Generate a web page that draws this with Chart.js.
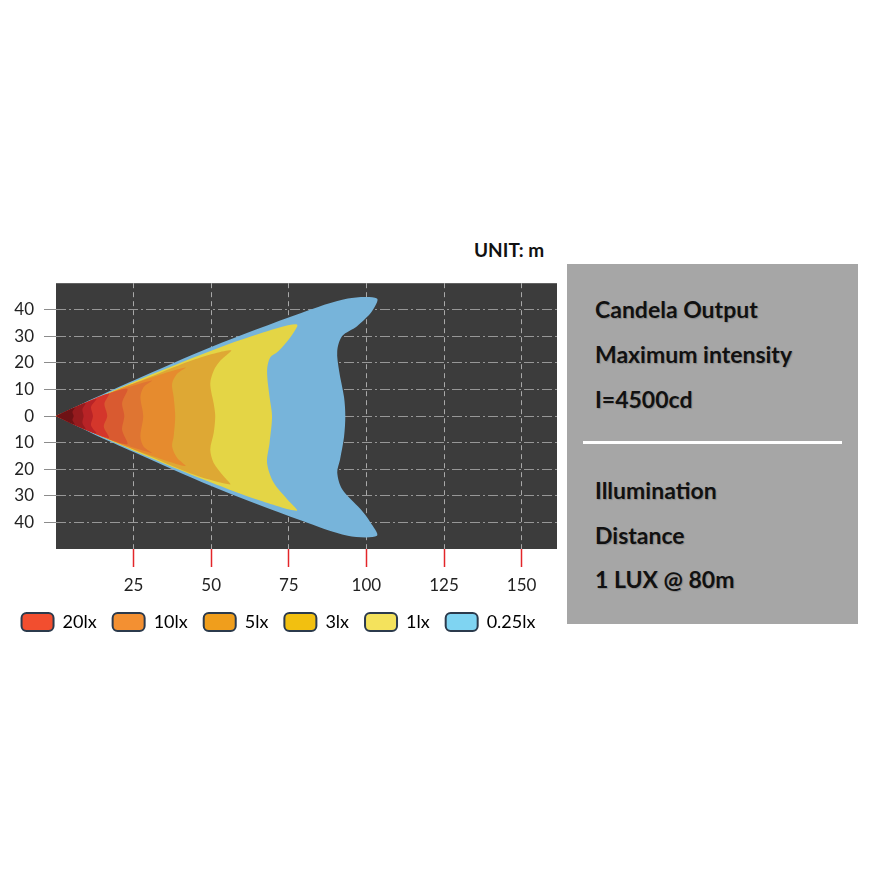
<!DOCTYPE html>
<html>
<head>
<meta charset="utf-8">
<script src="https://cdn.jsdelivr.net/npm/chart.js@4.4.0/dist/chart.umd.min.js"></script>
<style>
body{margin:0;background:#fff;width:875px;height:875px;position:relative;overflow:hidden;font-family:Lato,sans-serif}
#wrap{position:absolute;left:0;top:263px;width:568px;height:384px}
#unit{position:absolute;left:474px;top:238px;font:bold 19px Lato;color:#111}
#panel{position:absolute;left:567px;top:264px;width:291px;height:360px;background:#a6a6a6}
#panel .t{position:absolute;left:28px;font:bold 23px/26px Lato;color:#111;white-space:nowrap;text-shadow:1px 1px 1px rgba(0,0,0,0.18)}
#panel .rule{position:absolute;left:16px;top:177px;width:259px;height:3px;background:#fff}
</style>
</head>
<body>
<div id="unit">UNIT: m</div>
<div id="wrap"><canvas id="beamChart"></canvas></div>
<div id="panel">
  <div class="t" style="top:32px">Candela Output</div>
  <div class="t" style="top:77px">Maximum intensity</div>
  <div class="t" style="top:122px">I=4500cd</div>
  <div class="rule"></div>
  <div class="t" style="top:213px">Illumination</div>
  <div class="t" style="top:258px">Distance</div>
  <div class="t" style="top:302px">1 LUX @ 80m</div>
</div>
<script>
// distance (m) / half width (m) outlines of each lux zone
const contourDarkest = [[0,0],[6,3.1],[5.3,1.5],[5.7,0],[5.3,-1.5],[6,-3.2],[0,0]];
const contourDarkRed = [[0,0],[9.5,4.9],[8.5,2.5],[8.9,0],[8.5,-2.5],[9.5,-5],[0,0]];
const contourRed = [[0,0],[7,3.7],[13,6.4],[11.3,3.5],[11.9,0],[11.3,-3.5],[13,-6.5],[7,-3.8],[0,0]];
const contour20 = [[0,0],[9,4.8],[17,8.4],[15.6,4.7],[16.5,0],[15.4,-4],[17,-8.2],[9,-4.9],[0,0]];
const contourRedOrange = [[0,0],[12,6.2],[22.9,10.3],[21.3,5],[22,0],[21.3,-5.2],[22.9,-10.6],[12,-6.3],[0,0]];
const contour10 = [[0,0],[15,7.6],[30.9,13.4],[28.2,10.9],[27.2,7.2],[28.1,0],[27.2,-7.7],[28.2,-11.4],[30.9,-13.9],[15,-7.8],[0,0]];
const contour5 = [[0,0],[20,10],[32,15],[41.7,18.3],[39,15.9],[37.4,12.2],[37.9,7.2],[38.4,0],[37.9,-7.7],[37.4,-11.4],[39,-15.7],[41.7,-18.8],[32,-15.4],[20,-10.2],[0,0]];
const contour3 = [[0,0],[15,7.5],[30,14.6],[45,21.5],[56.4,24.8],[52.9,20.8],[50.8,17.1],[49.7,12.2],[50.8,4.7],[51.3,0],[50.8,-6.4],[49.7,-12.6],[50.8,-17.6],[54,-22.6],[56.1,-25.7],[45,-22.3],[30,-15],[15,-7.6],[0,0]];
const contour1 = [[0,0],[25,12.8],[50,24.6],[65,30.8],[77.6,34.5],[75.4,29.5],[71.7,24.5],[69,22],[68,17.1],[68.8,7.2],[69.6,0],[68.8,-10.1],[68,-17.6],[70.1,-25],[74.4,-31.2],[77.6,-35.6],[65,-31.5],[50,-25],[25,-13],[0,0]];
const contour025 = [[0,0],[12,6.6],[25,13.4],[50,26],[79,38.8],[94,44.2],[103.4,44.2],[101.8,39.4],[97,33.8],[92.2,30.1],[90.6,24.5],[91.2,17.1],[92.8,7.1],[93.2,0],[92.8,-7.8],[91.5,-16.4],[90.6,-21.2],[92.2,-27.5],[98,-34.9],[101.2,-39.8],[103.4,-45],[94,-45],[79,-39.3],[50,-26.3],[25,-13.5],[12,-6.7],[0,0]];

// inner zone first so it is painted on top
const contours = [contourDarkest, contourDarkRed, contourRed, contour20, contourRedOrange, contour10, contour5, contour3, contour1, contour025];
const contourColors = ["#6e1215","#961b1e","#b82326","#d4362b","#d95a30","#df7532","#e68b2e","#dea834","#e4d545","#77b4da"];

const legendLabels = ["20lx","10lx","5lx","3lx","1lx","0.25lx"];
const legendColors = ["#f24e2f","#f39032","#f09e1c","#f2c010","#f4e25c","#7fd4f2"];

const xTicks = [25,50,75,100,125,150];
const xTickLabels = ["25","50","75","100","125","150"];
const yTicks = [-40,-30,-20,-10,0,10,20,30,40];
const yTickLabels = ["40","30","20","10","0","10","20","30","40"];

const plotBg = {
  id:"plotBg",
  beforeDraw(chart){
    const {ctx, chartArea:a} = chart;
    ctx.save();
    ctx.fillStyle = "#3c3c3c";
    ctx.fillRect(a.left, a.top, a.width, a.height);
    ctx.restore();
  }
};

const beamChart = new Chart(
document.getElementById("beamChart"),
{
    type:"scatter",
    data:{
        datasets: contours.map((c, i) => ({
            data: c.map(p => ({x:p[0], y:p[1]})),
            showLine:true,
            fill:"shape",
            backgroundColor: contourColors[i],
            borderWidth:0,
            pointRadius:0,
            tension:.3
        }))
    },
    options:{
        responsive:true,
        maintainAspectRatio:false,
        animation:false,
        layout:{padding:{top:9, right:11, left:0, bottom:6}},
        plugins:{
            tooltip:{enabled:false},
            legend:{
                position:"bottom",
                onClick:null,
                labels:{
                    boxWidth:32,
                    boxHeight:18,
                    padding:16,
                    color:"#222",
                    font:{family:"Lato", size:18},
                    generateLabels: () => legendLabels.map((t, i) => ({
                        text:t,
                        fillStyle:legendColors[i],
                        strokeStyle:"#2b3a4c",
                        lineWidth:2,
                        borderRadius:5,
                        hidden:false,
                        datasetIndex:-1
                    }))
                }
            }
        },
        scales:{
            x:{
                type:"linear",
                min:0,
                max:161.4,
                afterBuildTicks: s => { s.ticks = xTicks.map(v => ({value:v})); },
                afterFit: s => { s.height = 48; },
                grid:{color:"rgba(205,205,205,0.75)", tickColor:"#e3262a", tickLength:18, tickWidth:1.5},
                border:{display:false, dash:[5,4]},
                ticks:{color:"#222", font:{family:"Lato", size:17}, padding:8, maxRotation:0,
                    callback:(v, i) => xTickLabels[i]}
            },
            y:{
                min:-50,
                max:50,
                afterBuildTicks: s => { s.ticks = yTicks.map(v => ({value:v})); },
                afterFit: s => { s.width = 56; },
                grid:{color:"rgba(190,190,190,0.7)", tickColor:"#8c8c8c", tickLength:12},
                border:{display:false, dash:[10,3,2,3]},
                ticks:{color:"#222", font:{family:"Lato", size:17}, padding:10,
                    callback:(v, i) => yTickLabels[i]}
            }
        }
    },
    plugins:[plotBg]
});
</script>
</body>
</html>
